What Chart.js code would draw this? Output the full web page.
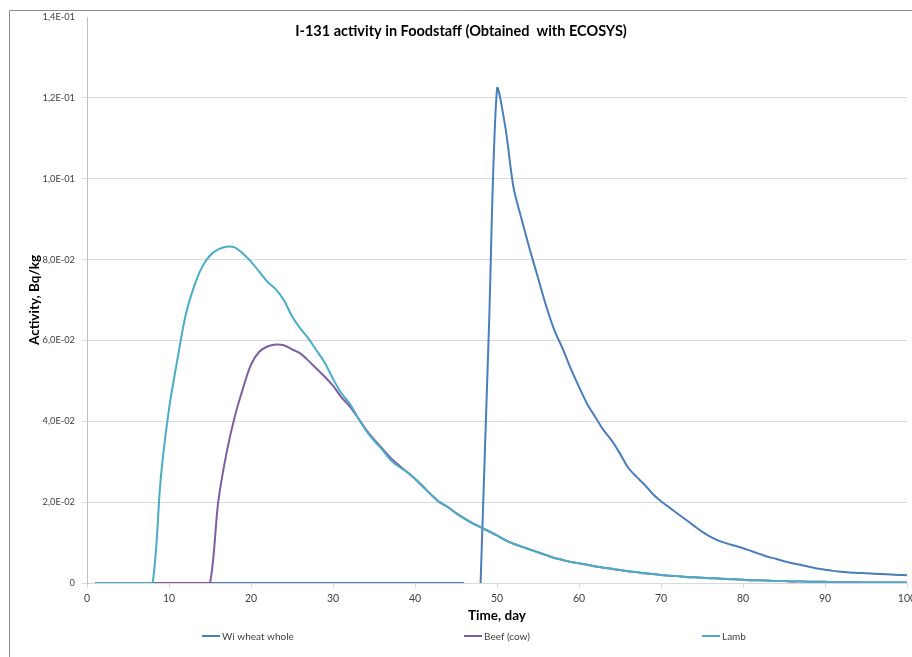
<!DOCTYPE html>
<html>
<head>
<meta charset="utf-8">
<script src="https://cdn.jsdelivr.net/npm/chart.js@4/dist/chart.umd.min.js"></script>
<style>
  html, body { margin: 0; padding: 0; background: #ffffff; }
  #wrap { position: relative; width: 912px; height: 657px; }
</style>
</head>
<body>
<div id="wrap"><canvas id="c" width="912" height="657"></canvas></div>
<script>
// ---- data ----
const days = [1,2,3,4,5,6,7,8,9,10,11,12,13,14,15,16,17,18,19,20,
  21,22,23,24,25,26,27,28,29,30,31,32,33,34,35,36,37,38,39,40,
  41,42,43,44,45,46,47,48,49,50,51,52,53,54,55,56,57,58,59,60,
  61,62,63,64,65,66,67,68,69,70,71,72,73,74,75,76,77,78,79,80,
  81,82,83,84,85,86,87,88,89,90,91,92,93,94,95,96,97,98,99,100];

const wheat = [0,0,0,0,0,0,0,0,0,0, 0,0,0,0,0,0,0,0,0,0,
  0,0,0,0,0,0,0,0,0,0, 0,0,0,0,0,0,0,0,0,0,
  0,0,0,0,0,0,null,0,0.062,0.1222,
  0.113,0.098,0.090,0.0825,0.0755,0.0685,0.0625,0.058,0.053,0.0485,
  0.0443,0.0410,0.0378,0.0352,0.0320,0.0285,0.0263,0.0243,0.0220,0.0202,
  0.0187,0.0172,0.0157,0.0142,0.0127,0.0115,0.0105,0.0098,0.0092,0.0086,
  0.0079,0.0072,0.0065,0.0060,0.0054,0.0049,0.0045,0.0040,0.0036,0.0033,
  0.0030,0.0028,0.0026,0.0025,0.0024,0.0023,0.0022,0.0021,0.0020,0.0019];

const beef = [0,0,0,0,0,0,0,0,0,0, 0,0,0,0,0,0.020,0.032,0.041,0.048,0.054,
  0.0572,0.0585,0.0590,0.0588,0.0578,0.0568,0.055,0.053,0.051,0.0488,
  0.0460,0.0438,0.041,0.038,0.0355,0.0333,0.031,0.0292,0.0275,0.0258,
  0.0238,0.0218,0.0200,0.0188,0.0173,0.0160,0.0148,0.0138,0.0128,0.0118,
  0.0106,0.0097,0.0090,0.0083,0.0076,0.0069,0.0062,0.0057,0.0052,0.0049,
  0.0045,0.0041,0.0038,0.0035,0.0032,0.0029,0.0027,0.0024,0.0022,0.0020,
  0.0018,0.0017,0.0015,0.0014,0.0013,0.0012,0.0011,0.0010,0.0009,0.0008,
  0.0007,0.0007,0.0006,0.0005,0.0005,0.0004,0.0004,0.0003,0.0003,0.0003,
  0.0002,0.0002,0.0002,0.0002,0.0001,0.0001,0.0001,0.0001,0.0001,0.0001];

const lamb = [0,0,0,0,0,0,0,0,0.026,0.043, 0.055,0.066,0.073,0.078,0.081,0.0825,0.0832,0.0830,0.0815,0.0795,
  0.077,0.0745,0.0727,0.070,0.066,0.063,0.0605,0.0575,0.0545,0.0505,
  0.047,0.0445,0.041,0.0378,0.0352,0.0330,0.0305,0.0288,0.0275,0.0258,
  0.0238,0.0218,0.0200,0.0188,0.0173,0.0160,0.0148,0.0138,0.0128,0.0118,
  0.0106,0.0097,0.0090,0.0083,0.0076,0.0069,0.0062,0.0057,0.0052,0.0049,
  0.0045,0.0041,0.0038,0.0035,0.0032,0.0029,0.0027,0.0024,0.0022,0.0020,
  0.0018,0.0017,0.0015,0.0014,0.0013,0.0012,0.0011,0.0010,0.0009,0.0008,
  0.0007,0.0007,0.0006,0.0005,0.0005,0.0004,0.0004,0.0003,0.0003,0.0003,
  0.0002,0.0002,0.0002,0.0002,0.0001,0.0001,0.0001,0.0001,0.0001,0.0001];

const seriesNames = ['Wi wheat whole', 'Beef (cow)', 'Lamb'];
const yTickLabels = ['0','2,0E-02','4,0E-02','6,0E-02','8,0E-02','1,0E-01','1,2E-01','1,4E-01'];
const chartTitle = 'I-131 activity in Foodstaff (Obtained  with ECOSYS)';
const xTitle = 'Time, day';
const yTitle = 'Activity, Bq/kg';

// ---- styling ----
const colors = ['#4a7ebb', '#7d5fa0', '#4bacc6'];
const FONT = 'Lato, "Liberation Sans", sans-serif';

function pts(vals) { return days.map((d, i) => ({ x: d, y: vals[i] })); }

const frameAndTitle = {
  id: 'frameAndTitle',
  beforeDraw(chart) {
    const ctx = chart.ctx;
    ctx.save();
    ctx.fillStyle = '#ffffff';
    ctx.fillRect(0, 0, chart.width, chart.height);
    ctx.strokeStyle = '#8c8c8c';
    ctx.lineWidth = 1;
    ctx.beginPath();
    ctx.moveTo(9.5, chart.height + 5);
    ctx.lineTo(9.5, 10.5);
    ctx.lineTo(chart.width + 5, 10.5);
    ctx.stroke();
    ctx.restore();
  },
  afterDraw(chart) {
    const ctx = chart.ctx;
    ctx.save();
    ctx.fillStyle = '#000000';
    ctx.font = 'bold 14.5px ' + FONT;
    ctx.textAlign = 'center';
    ctx.textBaseline = 'middle';
    ctx.fillText(chartTitle, 461, 31);
    // legend
    const legendX = [202, 464, 702];
    const ly = 636;
    ctx.font = '10px ' + FONT;
    ctx.textAlign = 'left';
    ctx.fillStyle = '#404040';
    chart.data.datasets.forEach((ds, i) => {
      ctx.strokeStyle = ds.borderColor;
      ctx.lineWidth = 2;
      ctx.beginPath();
      ctx.moveTo(legendX[i], ly);
      ctx.lineTo(legendX[i] + 18, ly);
      ctx.stroke();
      ctx.fillText(ds.label, legendX[i] + 20, ly + 0.5);
    });
    ctx.restore();
  }
};

new Chart(document.getElementById('c'), {
  type: 'line',
  data: {
    datasets: [
      { label: seriesNames[0], data: pts(wheat), borderColor: colors[0], backgroundColor: colors[0], order: 2 },
      { label: seriesNames[1], data: pts(beef), borderColor: colors[1], backgroundColor: colors[1], order: 1 },
      { label: seriesNames[2], data: pts(lamb), borderColor: colors[2], backgroundColor: colors[2], order: 0 }
    ]
  },
  options: {
    responsive: false,
    animation: false,
    spanGaps: false,
    layout: { padding: { left: 0, right: 5, top: 17, bottom: 29 } },
    elements: {
      point: { radius: 0, hoverRadius: 0 },
      line: { borderWidth: 2, tension: 0.3, fill: false }
    },
    plugins: {
      legend: { display: false },
      title: { display: false },
      tooltip: { enabled: false }
    },
    scales: {
      x: {
        type: 'linear',
        min: 0, max: 100,
        ticks: { stepSize: 10, color: '#404040', font: { family: FONT, size: 10.5 }, padding: 4, maxRotation: 0 },
        grid: { drawOnChartArea: false, drawTicks: true, tickLength: 5, color: '#d9d9d9' },
        border: { color: '#d9d9d9' },
        title: { display: true, text: xTitle, color: '#000000', font: { family: FONT, size: 13.5, weight: 'bold' }, padding: { top: 0, bottom: 4 } },
        afterFit(scale) { scale.paddingRight = 0; scale.paddingLeft = 0; scale.height = 45; }
      },
      y: {
        type: 'linear',
        min: 0, max: 0.14,
        ticks: {
          stepSize: 0.02, color: '#404040', font: { family: FONT, size: 9.3 }, padding: 7,
          callback: (v, i) => yTickLabels[i]
        },
        grid: {
          drawTicks: true, tickLength: 5,
          color: (c) => (c.index === yTickLabels.length - 1 ? 'rgba(0,0,0,0)' : '#d9d9d9')
        },
        border: { color: '#bfbfbf' },
        title: { display: true, text: yTitle, color: '#000000', font: { family: FONT, size: 13.5, weight: 'bold' }, padding: { top: 27, bottom: 0 } },
        afterFit(scale) { scale.width = 87; }
      }
    }
  },
  plugins: [frameAndTitle]
});
</script>
</body>
</html>
